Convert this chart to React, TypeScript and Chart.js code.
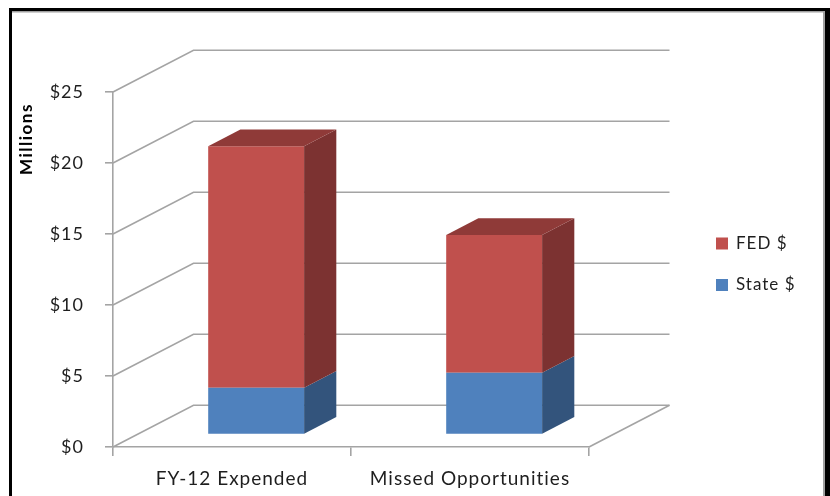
import React, { useEffect, useRef } from 'react';
import { Chart, registerables } from 'chart.js';

Chart.register(...registerables);

// Data
const categories = ['FY-12 Expended', 'Missed Opportunities'];
const stateValues = [3.3, 4.35];
const fedValues = [17.0, 9.7];
const yTicks = [0, 5, 10, 15, 20, 25];
const seriesNames = ['State $', 'FED $'];
const axisTitle = 'Millions';

// Styles
const FONT = 'Lato, "Open Sans", sans-serif';
const TEXT = '#1e1e1e';
const GRID = '#a4a4a4';
const FRONT = ['#4f81bd', '#c0504d'];
const SIDE = ['#33547c', '#7c3231'];
const TOP = ['#3e6594', '#8f3a38'];
const SPACING = '1px';

// Oblique depth of the wall box and the bar slab inside it
const DX = 80.5;
const DY = -41.7;
const BAR_FRONT = 0.3;
const BAR_DEPTH = 0.4;

const threeD = {
  id: 'threeD',
  beforeDraw(chart: any) {
    const { ctx, chartArea, scales } = chart;
    const y = scales.y;
    ctx.save();
    // frame
    ctx.fillStyle = '#000';
    ctx.fillRect(9, 8, 821, 3);
    ctx.fillRect(9, 8, 3, 488);
    ctx.fillRect(825, 8, 5, 488);
    ctx.fillStyle = '#a0a0a0';
    ctx.fillRect(12, 11, 811, 1.5);
    ctx.fillRect(823, 11, 2, 485);

    // side wall + back wall gridlines
    ctx.strokeStyle = GRID;
    ctx.lineWidth = 1.6;
    for (const v of yTicks) {
      const py = y.getPixelForValue(v);
      ctx.beginPath();
      ctx.moveTo(chartArea.left, py);
      ctx.lineTo(chartArea.left + DX, py + DY);
      ctx.lineTo(chartArea.right + DX, py + DY);
      ctx.stroke();
    }
    // floor right edge
    const y0 = y.getPixelForValue(0);
    ctx.beginPath();
    ctx.moveTo(chartArea.right, y0);
    ctx.lineTo(chartArea.right + DX, y0 + DY);
    ctx.stroke();
    ctx.restore();
    // slightly tracked-out lettering for the axis labels
    ctx.letterSpacing = SPACING;
  },
  beforeDatasetsDraw(chart: any) {
    const { ctx } = chart;
    ctx.save();
    ctx.translate(DX * BAR_FRONT, DY * BAR_FRONT);
  },
  afterDatasetsDraw(chart: any) {
    const { ctx } = chart;
    const sx = DX * BAR_DEPTH;
    const sy = DY * BAR_DEPTH;
    const n = chart.data.datasets.length;
    chart.data.datasets.forEach((ds: any, di: number) => {
      const meta = chart.getDatasetMeta(di);
      meta.data.forEach((bar: any) => {
        const { x, y, base, width } = bar.getProps(['x', 'y', 'base', 'width'], true);
        const l = x - width / 2;
        const r = x + width / 2;
        ctx.fillStyle = SIDE[di];
        ctx.beginPath();
        ctx.moveTo(r, y);
        ctx.lineTo(r + sx, y + sy);
        ctx.lineTo(r + sx, base + sy);
        ctx.lineTo(r, base);
        ctx.closePath();
        ctx.fill();
        if (di === n - 1) {
          ctx.fillStyle = TOP[di];
          ctx.beginPath();
          ctx.moveTo(l, y);
          ctx.lineTo(l + sx, y + sy);
          ctx.lineTo(r + sx, y + sy);
          ctx.lineTo(r, y);
          ctx.closePath();
          ctx.fill();
        }
      });
    });
    ctx.restore();
  },
  afterDraw(chart: any) {
    const { ctx } = chart;
    ctx.save();
    // axis title
    ctx.letterSpacing = '1.5px';
    ctx.translate(27, 139);
    ctx.rotate(-Math.PI / 2);
    ctx.fillStyle = '#000';
    ctx.font = `bold 17px ${FONT}`;
    ctx.textAlign = 'center';
    ctx.textBaseline = 'middle';
    ctx.fillText(axisTitle, 0, 0);
    ctx.restore();

    // legend, top series first
    ctx.save();
    ctx.letterSpacing = SPACING;
    ctx.font = `17px ${FONT}`;
    ctx.textBaseline = 'middle';
    ctx.textAlign = 'left';
    const items = chart.data.datasets.map((d: any, i: number) => ({ label: d.label, color: FRONT[i] })).reverse();
    items.forEach((it: any, i: number) => {
      const cy = 243.5 + i * 41.5;
      ctx.fillStyle = it.color;
      ctx.fillRect(716, cy - 6, 12, 12);
      ctx.fillStyle = TEXT;
      ctx.fillText(it.label, 736, cy);
    });
    ctx.restore();
    ctx.letterSpacing = '0px';
  },
};

export default function App() {
  const ref = useRef<HTMLCanvasElement>(null);
  useEffect(() => {
    if (!ref.current) return;
    const chart = new Chart(ref.current, {
      type: 'bar',
      data: {
        labels: categories,
        datasets: [
          { label: seriesNames[0], data: stateValues, backgroundColor: FRONT[0], borderWidth: 0 },
          { label: seriesNames[1], data: fedValues, backgroundColor: FRONT[1], borderWidth: 0 },
        ],
      },
      options: {
        responsive: false,
        animation: false,
        events: [],
        layout: { padding: { top: 92, right: 241, bottom: 0, left: 0 } },
        datasets: { bar: { categoryPercentage: 1, barPercentage: 0.403 } },
        plugins: { legend: { display: false }, tooltip: { enabled: false } },
        scales: {
          x: {
            stacked: true,
            grid: { display: true, drawOnChartArea: false, drawTicks: true, tickLength: 9, color: GRID, lineWidth: 1.6, offset: true },
            border: { display: true, color: GRID, width: 1.6 },
            ticks: { color: TEXT, font: { family: FONT, size: 19 }, padding: 11, maxRotation: 0 },
            afterFit: (s: any) => { s.height = 49; },
          },
          y: {
            stacked: true,
            min: yTicks[0],
            max: yTicks[yTicks.length - 1],
            afterBuildTicks: (s: any) => { s.ticks = yTicks.map((v) => ({ value: v })); },
            ticks: { color: TEXT, font: { family: FONT, size: 18 }, padding: 21, callback: (v: any) => '$' + v },
            grid: { display: true, drawOnChartArea: false, drawTicks: true, tickLength: 8, color: GRID, lineWidth: 1.6 },
            border: { display: true, color: GRID, width: 1.6 },
            afterFit: (s: any) => { s.width = 113; },
          },
        },
      },
      plugins: [threeD],
    });
    return () => chart.destroy();
  }, []);
  return (
    <div style={{ position: 'fixed', left: 0, top: 0, width: 830, height: 496, background: '#fff' }}>
      <canvas ref={ref} width={830} height={496} style={{ display: 'block' }} />
    </div>
  );
}
